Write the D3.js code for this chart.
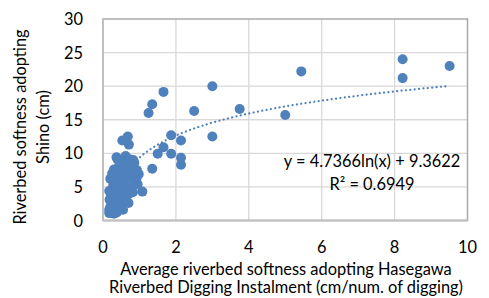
<!DOCTYPE html>
<meta charset="utf-8">
<style>
body { margin: 0; background: #fff; }
text { font-family: Lato, "Liberation Sans", sans-serif; fill: #000; }
.tick-label { font-size: 16.4px; }
.title { font-size: 16.4px; }
.eq { font-size: 16.4px; }
</style>
<body>
<script src="https://cdn.jsdelivr.net/npm/d3@7"></script>
<script>

// scatter values (x = Hasegawa, y = Shino)
var clusterX = [0.17, 0.2, 0.38, 0.3, 0.25, 0.45, 0.18, 0.35, 0.55, 0.22, 0.4, 0.6, 0.3, 0.5, 0.7,
                0.17, 0.42, 0.65, 0.82, 0.28, 0.55, 0.78, 0.95, 0.35, 0.6, 0.85, 0.2, 0.48, 0.7,
                0.92, 0.38, 0.62, 0.82, 0.98, 0.3, 0.55, 0.75, 0.93, 0.45, 0.68, 0.86, 0.37,
                0.62, 0.75, 0.5, 0.83, 0.7, 0.55, 0.3, 0.45, 0.6, 0.25, 0.4, 0.17, 0.23];
var clusterY = [1.6, 2.0, 1.2, 1.8, 2.6, 2.2, 3.1, 3.0, 2.8, 3.8, 3.6, 3.4, 4.2, 4.0, 3.9,
                4.4, 4.8, 4.5, 4.2, 5.2, 5.3, 5.0, 5.4, 5.8, 6.0, 5.9, 6.2, 6.6, 6.5,
                6.3, 7.0, 7.2, 7.0, 6.9, 7.6, 7.8, 7.7, 7.5, 8.3, 8.4, 8.6, 9.4,
                9.6, 9.1, 8.9, 9.0, 2.6, 1.6, 1.0, 5.6, 8.0, 7.0, 9.1, 1.1, 1.4];
var outerX = [1.08, 1.35, 1.5, 1.87, 2.14, 2.14, 1.66, 2.14, 1.87, 0.71, 0.53, 0.68, 3.0,
              1.25, 1.35, 1.66, 2.5, 3.0, 3.75, 5.0, 5.44, 8.22, 8.22, 9.51];
var outerY = [4.3, 7.7, 9.95, 9.95, 8.3, 9.35, 10.9, 11.9, 12.7, 11.3, 11.9, 12.5, 12.5,
              16.0, 17.3, 19.15, 16.3, 20.0, 16.6, 15.7, 22.2, 24.0, 21.2, 23.0];

var xTicks = [0, 2, 4, 6, 8, 10];
var yTicks = [0, 5, 10, 15, 20, 25, 30];

var trendA = 4.7366, trendB = 9.3622;
var eqText = "y = 4.7366ln(x) + 9.3622";
var r2Text = "R\u00b2 = 0.6949";
var xTitle = ["Average riverbed softness adopting Hasegawa",
              "Riverbed Digging Instalment (cm/num. of digging)"];
var yTitle = ["Riverbed softness adopting", "Shino (cm)"];

var blue = "#4f81bd";

var width = 489, height = 298;
var plotL = 103, plotT = 19, plotR = 467.5, plotB = 220.5;

var svg = d3.select("body").append("svg")
    .attr("width", width)
    .attr("height", height);

var x = d3.scaleLinear().domain([0, 10]).range([plotL, plotR]);
var y = d3.scaleLinear().domain([0, 30]).range([plotB, plotT]);

// gridlines
svg.append("g").selectAll("line")
    .data(xTicks.slice(1, -1))
  .enter().append("line")
    .attr("x1", d => x(d)).attr("x2", d => x(d))
    .attr("y1", plotT).attr("y2", plotB)
    .attr("stroke", "#d9d9d9").attr("stroke-width", 1.3);

svg.append("g").selectAll("line")
    .data(yTicks.slice(1, -1))
  .enter().append("line")
    .attr("x1", plotL).attr("x2", plotR)
    .attr("y1", d => y(d)).attr("y2", d => y(d))
    .attr("stroke", "#d9d9d9").attr("stroke-width", 1.3);

// plot area border
svg.append("rect")
    .attr("x", plotL).attr("y", plotT)
    .attr("width", plotR - plotL).attr("height", plotB - plotT)
    .attr("fill", "none")
    .attr("stroke", "#a9a9a9").attr("stroke-width", 1.5);
svg.append("line")
    .attr("x1", plotL).attr("x2", plotL).attr("y1", plotT).attr("y2", plotB)
    .attr("stroke", "#bfbfbf").attr("stroke-width", 2);
svg.append("line")
    .attr("x1", plotL).attr("x2", plotR).attr("y1", plotB).attr("y2", plotB)
    .attr("stroke", "#bfbfbf").attr("stroke-width", 2);

// tick labels
svg.append("g").selectAll("text")
    .data(xTicks)
  .enter().append("text")
    .attr("class", "tick-label")
    .attr("x", d => x(d)).attr("y", 253)
    .attr("text-anchor", "middle")
    .text(d => d);

svg.append("g").selectAll("text")
    .data(yTicks)
  .enter().append("text")
    .attr("class", "tick-label")
    .attr("x", 83).attr("y", d => y(d) + 6)
    .attr("text-anchor", "end")
    .text(d => d);

var pts = [];
clusterX.forEach(function(v, i) { pts.push([v, clusterY[i]]); });
outerX.forEach(function(v, i) { pts.push([v, outerY[i]]); });

// log trendline, drawn under the points
var xmin = d3.min(pts, d => d[0]), xmax = d3.max(pts, d => d[0]);
var trend = d3.range(0, 101).map(function(i) {
  var xv = xmin + (xmax - xmin) * i / 100;
  return [xv, trendA * Math.log(xv) + trendB];
});
svg.append("path")
    .datum(trend)
    .attr("d", d3.line().x(d => x(d[0])).y(d => y(d[1])))
    .attr("fill", "none")
    .attr("stroke", blue)
    .attr("stroke-width", 2.2)
    .attr("stroke-linecap", "round")
    .attr("stroke-dasharray", "0.1 4.3");

// points
svg.append("g").selectAll("circle")
    .data(pts)
  .enter().append("circle")
    .attr("cx", d => x(d[0]))
    .attr("cy", d => y(d[1]))
    .attr("r", 5)
    .attr("fill", blue);

// equation
svg.append("text").attr("class", "eq")
    .attr("x", 372).attr("y", 167).attr("text-anchor", "middle")
    .text(eqText);
svg.append("text").attr("class", "eq")
    .attr("x", 372).attr("y", 190).attr("text-anchor", "middle")
    .text(r2Text);

// axis titles
svg.append("g").selectAll("text")
    .data(xTitle)
  .enter().append("text")
    .attr("class", "title")
    .attr("x", 286).attr("y", (d, i) => 275 + i * 18)
    .attr("text-anchor", "middle")
    .text(d => d);

svg.append("g").selectAll("text")
    .data(yTitle)
  .enter().append("text")
    .attr("class", "title")
    .attr("transform", (d, i) => "translate(" + (26 + i * 23) + ",127) rotate(-90)")
    .attr("text-anchor", "middle")
    .text(d => d);

</script>
</body>
